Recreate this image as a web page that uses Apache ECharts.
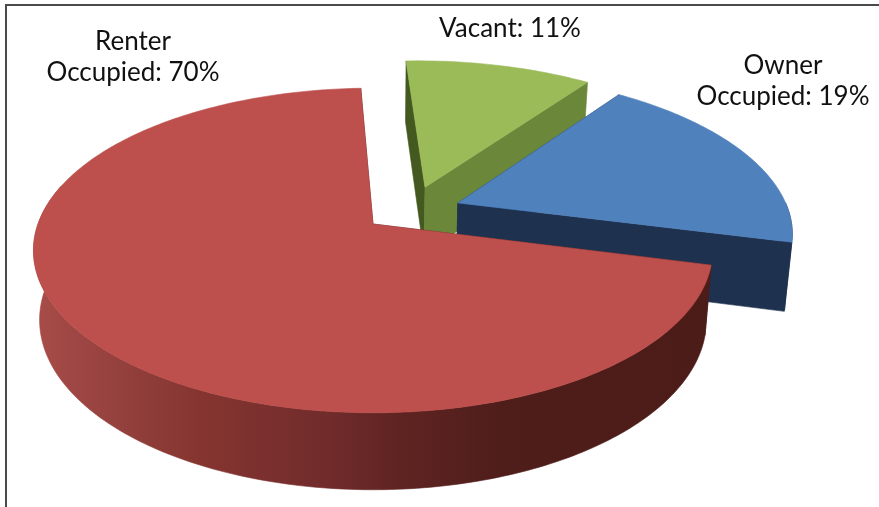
<!DOCTYPE html>
<html>
<head>
<meta charset="utf-8">
<style>html,body{margin:0;padding:0;background:#fff}#c{width:879px;height:507px}</style>
<script src="https://cdn.jsdelivr.net/npm/echarts@6/dist/echarts.min.js"></script>
</head>
<body>
<div id="c"></div>
<script>
// ---- data ----
var categories = ['Owner\nOccupied', 'Renter\nOccupied', 'Vacant'];
var values = [19, 70, 11];

// ---- styling and layout of the 3D pie ----
var topColors = ['#4f81bd', '#bd4f4c', '#9bbb59'];
var startWallColors = ['#1e324f', '#4c1c19', '#43591f'];   // wall on the slice's first cut edge
var endWallColors = ['#1e324f', '#4c1c19', '#6b883a'];     // wall on the slice's last cut edge
var paintRank = [1, 2, 0];                                  // back to front
var explodeU = [0.259, 0, 0.1613];                          // offset across the ground plane
var explodeV = [-0.1365, 0, -0.2415];                       // offset into the ground plane
var labelX = [783, 133, 510];
var labelY = [81, 57, 29];
var firstAngle = 36.06;
var seamNudge = [0, 1.1, 0];                                // projection correction at slice ends
var cx = 373, cy = 224, radiusX = 335, radiusY = 158, persp = 0.163;
var baseDrop = 68.3, baseScaleX = 0.982, baseScaleY = 1.046;

function project(u, v, i, bottom) {
  var d = 1 - persp * (v + explodeV[i]);
  var X = radiusX * (u + explodeU[i]) / d;
  var Y = radiusY * (v + explodeV[i]) / d;
  return bottom ? [cx + X * baseScaleX, cy + baseDrop + Y * baseScaleY] : [cx + X, cy + Y];
}
function rim(deg, i, bottom) {
  var r = deg * Math.PI / 180;
  return project(Math.sin(r), -Math.cos(r), i, bottom);
}

var total = values.reduce(function (a, b) { return a + b; }, 0);
var edges = [];
(function () {
  var a = firstAngle;
  values.forEach(function (v, i) {
    var sweep = v / total * 360;
    edges.push([a + (i > 0 ? seamNudge[i - 1] : 0), a + sweep + seamNudge[i]]);
    a += sweep;
  });
})();

var redWall = new echarts.graphic.LinearGradient(0, 0, 1, 0, [
  { offset: 0, color: '#a84c49' },
  { offset: 0.10, color: '#984340' },
  { offset: 0.246, color: '#853530' },
  { offset: 0.44, color: '#702b2b' },
  { offset: 0.54, color: '#5f2422' },
  { offset: 0.69, color: '#4f1d1a' },
  { offset: 1, color: '#4c1c19' }
]);

function renderSlice(params, api) {
  var i = params.dataIndex;
  var value = api.value(0);
  var a0 = edges[i][0], a1 = edges[i][1];
  var z = paintRank[i] * 10;
  var apexTop = project(0, 0, i, false), apexBase = project(0, 0, i, true);
  var children = [];
  function poly(points, fill, layer) {
    children.push({
      type: 'polygon', z2: z + layer, shape: { points: points },
      style: { fill: fill, stroke: fill, lineWidth: 0.6 }
    });
  }
  // cut walls
  poly([apexTop, rim(a0, i, false), rim(a0, i, true), apexBase], startWallColors[i], 0);
  poly([apexTop, rim(a1, i, false), rim(a1, i, true), apexBase], endWallColors[i], 1);
  // outer wall, the part that faces the viewer
  var from = Math.max(a0, 90), to = Math.min(a1, 285);
  if (to > from) {
    var upper = [], lower = [];
    for (var a = from; a <= to; a += 1) {
      upper.push(rim(a, i, false));
      lower.unshift(rim(a, i, true));
    }
    poly(upper.concat(lower), i === 1 ? redWall : startWallColors[i], 2);
  }
  // top face
  var face = [apexTop];
  for (var b = a0; b < a1; b += 1) face.push(rim(b, i, false));
  face.push(rim(a1, i, false));
  poly(face, topColors[i], 3);
  // label
  children.push({
    type: 'text', z2: 100,
    style: {
      x: labelX[i], y: labelY[i],
      text: categories[i] + ': ' + value + '%',
      align: 'center', verticalAlign: 'middle',
      font: '26px Lato', lineHeight: 31, fill: '#111111'
    }
  });
  return { type: 'group', children: children };
}

var chart = echarts.init(document.getElementById('c'), null, { renderer: 'canvas' });
chart.setOption({
  animation: false,
  backgroundColor: '#ffffff',
  graphic: [
    { type: 'line', shape: { x1: 6, y1: 5, x2: 879, y2: 5 }, style: { stroke: '#4a4a4a', lineWidth: 2 } },
    { type: 'line', shape: { x1: 6, y1: 4, x2: 6, y2: 507 }, style: { stroke: '#4a4a4a', lineWidth: 2 } }
  ],
  series: [{
    type: 'custom',
    coordinateSystem: 'none',
    renderItem: renderSlice,
    data: values.map(function (v) { return [v]; })
  }]
});
</script>
</body>
</html>
